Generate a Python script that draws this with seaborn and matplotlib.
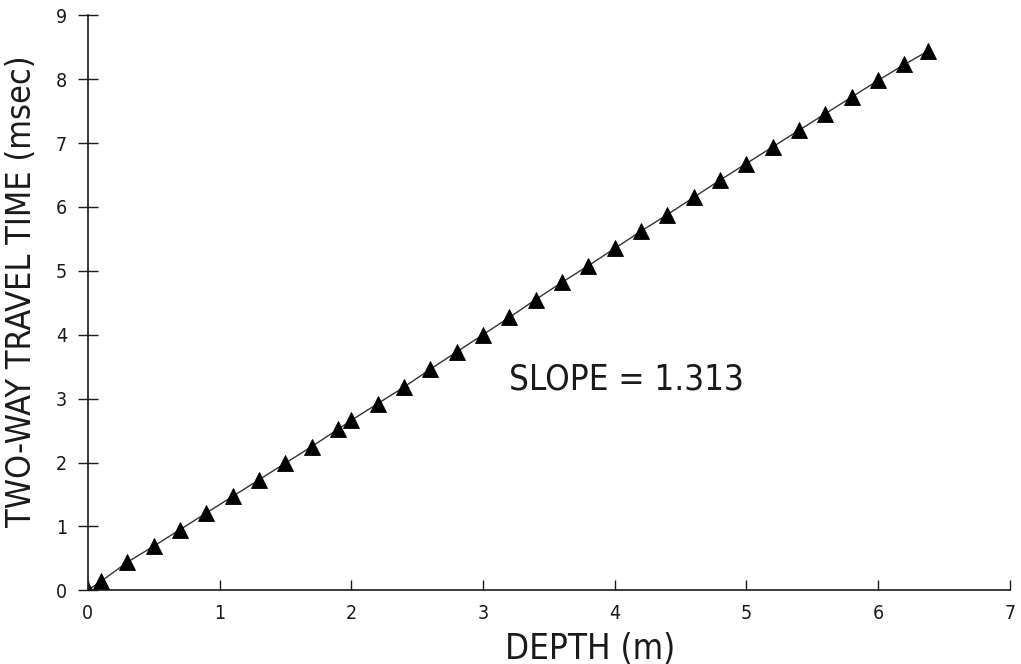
import matplotlib
matplotlib.use("Agg")
import matplotlib.pyplot as plt
import seaborn as sns
import pandas as pd

depth = [0.0, 0.1, 0.3, 0.5, 0.7, 0.9, 1.1, 1.3, 1.5, 1.7, 1.9, 2.0, 2.2, 2.4,
         2.6, 2.8, 3.0, 3.2, 3.4, 3.6, 3.8, 4.0, 4.2, 4.4, 4.6, 4.8, 5.0, 5.2,
         5.4, 5.6, 5.8, 6.0, 6.2, 6.38]
travel_time = [0.0, 0.14, 0.44, 0.69, 0.95, 1.21, 1.47, 1.73, 1.99, 2.25, 2.52,
               2.66, 2.92, 3.18, 3.46, 3.73, 4.00, 4.27, 4.55, 4.82, 5.08, 5.35,
               5.62, 5.88, 6.15, 6.42, 6.68, 6.94, 7.20, 7.46, 7.72, 7.98, 8.23,
               8.44]
x_ticks = [0, 1, 2, 3, 4, 5, 6, 7]
y_ticks = [0, 1, 2, 3, 4, 5, 6, 7, 8, 9]
annotation = "SLOPE = 1.313"

df = pd.DataFrame({"depth": depth, "time": travel_time})

sns.set_style("white")
plt.rcParams['font.family'] = ['DejaVu Sans']
plt.rcParams['font.stretch'] = 'condensed'
plt.rcParams['font.weight'] = 'light'
ink = "#1a1a1a"

fig = plt.figure(figsize=(10.21, 6.64), dpi=100)
ax = fig.add_axes([0.086, 0.111, 0.903, 0.866])

sns.lineplot(data=df, x="depth", y="time", ax=ax, color="#333333", linewidth=1.0,
             marker="^", markersize=11, markeredgecolor="black",
             markerfacecolor="black", markeredgewidth=0.6)

ax.set_xlim(0, 7)
ax.set_ylim(0, 9)
ax.set_xticks(x_ticks)
ax.set_yticks(y_ticks)
ax.tick_params(axis="x", bottom=True, direction="in", length=7, width=1,
               colors=ink, labelsize=14, pad=10)
ax.tick_params(axis="y", left=True, direction="inout", length=14, width=1,
               colors=ink, labelsize=14, pad=8)
for side in ("top", "right"):
    ax.spines[side].set_visible(False)
for side in ("left", "bottom"):
    ax.spines[side].set_color(ink)
    ax.spines[side].set_linewidth(1.2)

ax.set_xlabel("DEPTH (m)", fontsize=25, color=ink)
ax.set_ylabel("TWO-WAY TRAVEL TIME (msec)", fontsize=24.5, color=ink)
ax.xaxis.set_label_coords(0.545, -0.072)
ax.yaxis.set_label_coords(-0.054, 0.52)
ax.text(3.2, 3.3, annotation, fontsize=25, color=ink, va="center", ha="left")

fig.savefig("out.png", dpi=100)
